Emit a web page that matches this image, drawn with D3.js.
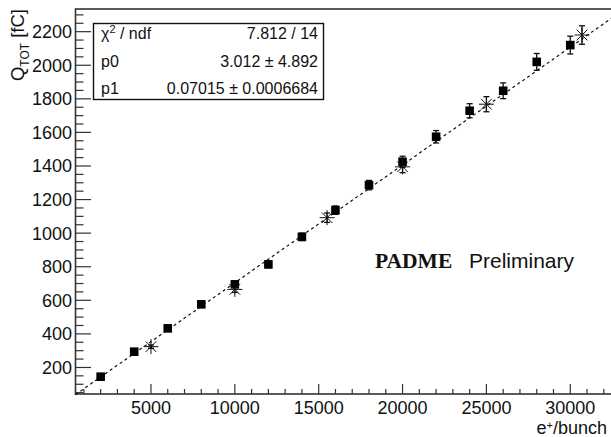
<!DOCTYPE html>
<html>
<head>
<meta charset="utf-8">
<script src="https://cdn.jsdelivr.net/npm/d3@7"></script>
<style>
  body { margin: 0; background: #fff; }
  text { font-family: "Liberation Sans", Arial, sans-serif; fill: #111; }
</style>
</head>
<body>
<svg id="chart" width="611" height="437"></svg>
<script>
// square points (measured)
const sqX = [2000, 4000, 6000, 8000, 10000, 12000, 14000, 16000, 18000, 20000, 22000, 24000, 26000, 28000, 30000];
const sqY = [145, 294, 433, 576, 695, 814, 978, 1137, 1286, 1425, 1574, 1729, 1848, 2020, 2120];
const sqErr = [8, 10, 12, 14, 17, 20, 22, 25, 28, 33, 37, 42, 47, 50, 53];

// star points
const starX = [5000, 10000, 15500, 20000, 25000, 30700];
const starY = [324, 665, 1092, 1395, 1768, 2180];
const starErr = [10, 18, 28, 35, 45, 55];

// fit result
const p0 = 3.012, p1 = 0.07015;
const statRows = [
    ["χ2 / ndf", "7.812 / 14"],
    ["p0", "3.012 ± 4.892"],
    ["p1", "0.07015 ± 0.0006684"]
];

const yMajor = d3.range(200, 2201, 200);
const yMinor = d3.range(50, 2301, 50);
const xMajor = d3.range(5000, 30001, 5000);
const xMinor = d3.range(1000, 32001, 1000);

const svg = d3.select("#chart");
const pLeft = 75.5, pRight = 612.2, pTop = 9, pBottom = 394;

const x = d3.scaleLinear().domain([500, 32500]).range([pLeft, pRight]);
const y = d3.scaleLinear().domain([42, 2335]).range([pBottom, pTop]);

// frame
svg.append("rect")
    .attr("x", pLeft).attr("y", pTop)
    .attr("width", pRight - pLeft).attr("height", pBottom - pTop)
    .attr("fill", "none").attr("stroke", "#333").attr("stroke-width", 1.6);

// y ticks (inside)
svg.append("g").selectAll("line")
    .data(yMinor)
    .enter().append("line")
    .attr("x1", pLeft).attr("x2", d => pLeft + (d % 200 === 0 ? 15.5 : 8))
    .attr("y1", d => y(d)).attr("y2", d => y(d))
    .attr("stroke", "#333").attr("stroke-width", 1.2);

svg.append("g").selectAll("text")
    .data(yMajor)
    .enter().append("text")
    .attr("x", 72).attr("y", d => y(d) + 6.5)
    .attr("text-anchor", "end").attr("font-size", 18)
    .text(d => d);

// x ticks (inside)
svg.append("g").selectAll("line")
    .data(xMinor)
    .enter().append("line")
    .attr("x1", d => x(d)).attr("x2", d => x(d))
    .attr("y1", pBottom).attr("y2", d => pBottom - (d % 5000 === 0 ? 10 : 5))
    .attr("stroke", "#333").attr("stroke-width", 1.2);

svg.append("g").selectAll("text")
    .data(xMajor)
    .enter().append("text")
    .attr("x", d => x(d)).attr("y", 413.5)
    .attr("text-anchor", "middle").attr("font-size", 18)
    .text(d => d);

// axis titles
svg.append("text")
    .attr("x", 607).attr("y", 433.5)
    .attr("text-anchor", "end").attr("font-size", 18)
    .html('e<tspan dy="-5" font-size="11">+</tspan><tspan dy="5">/bunch</tspan>');

svg.append("text")
    .attr("transform", "translate(24,9) rotate(-90)")
    .attr("text-anchor", "end").attr("font-size", 18.5)
    .html('Q<tspan dy="5" font-size="12">TOT</tspan><tspan dy="-5"> [fC]</tspan>');

// fit line
svg.append("line")
    .attr("x1", x(500)).attr("y1", y(p0 + p1 * 500))
    .attr("x2", x(32500)).attr("y2", y(p0 + p1 * 32500))
    .attr("stroke", "#111").attr("stroke-width", 1.2)
    .attr("stroke-dasharray", "3,3");

// error bars
function errBars(xs, ys, es) {
    const g = svg.append("g").attr("stroke", "#111").attr("stroke-width", 1.3);
    xs.forEach((xv, i) => {
        const cx = x(xv), lo = y(ys[i] - es[i]), hi = y(ys[i] + es[i]);
        g.append("line").attr("x1", cx).attr("x2", cx).attr("y1", lo).attr("y2", hi);
        g.append("line").attr("x1", cx - 3).attr("x2", cx + 3).attr("y1", lo).attr("y2", lo);
        g.append("line").attr("x1", cx - 3).attr("x2", cx + 3).attr("y1", hi).attr("y2", hi);
    });
}
errBars(sqX, sqY, sqErr);
errBars(starX, starY, starErr);

// squares
svg.append("g").selectAll("rect")
    .data(sqX)
    .enter().append("rect")
    .attr("x", d => x(d) - 4.3)
    .attr("y", (d, i) => y(sqY[i]) - 4.3)
    .attr("width", 8.6).attr("height", 8.6)
    .attr("fill", "#000");

// stars (asterisk)
const starG = svg.append("g").attr("stroke", "#111").attr("stroke-width", 1);
starX.forEach((xv, i) => {
    const cx = x(xv), cy = y(starY[i]), r = 7.5;
    [0, 45, 90, 135].forEach(a => {
        const dx = r * Math.cos(a * Math.PI / 180), dy = r * Math.sin(a * Math.PI / 180);
        starG.append("line")
            .attr("x1", cx - dx).attr("y1", cy - dy)
            .attr("x2", cx + dx).attr("y2", cy + dy);
    });
});

// stats box
svg.append("rect")
    .attr("x", 93.5).attr("y", 23.5)
    .attr("width", 230).attr("height", 76)
    .attr("fill", "#fff").attr("stroke", "#111").attr("stroke-width", 1.4);

const rowY = [39, 67, 94];
statRows.forEach((r, i) => {
    const t = svg.append("text").attr("x", 101).attr("y", rowY[i]).attr("font-size", 16);
    if (i === 0) {
        t.html('χ<tspan dy="-6" font-size="11">2</tspan><tspan dy="6"> / ndf</tspan>');
    } else {
        t.text(r[0]);
    }
    svg.append("text")
        .attr("x", 318).attr("y", rowY[i])
        .attr("text-anchor", "end").attr("font-size", 16)
        .text(r[1]);
});

// label
svg.append("text")
    .attr("x", 375).attr("y", 268)
    .style("font-family", "'Liberation Serif', 'Times New Roman', serif")
    .attr("font-weight", "bold")
    .attr("font-size", 21.5)
    .text("PADME");
svg.append("text")
    .attr("x", 469).attr("y", 268)
    .attr("font-size", 21)
    .text("Preliminary");
</script>
</body>
</html>
